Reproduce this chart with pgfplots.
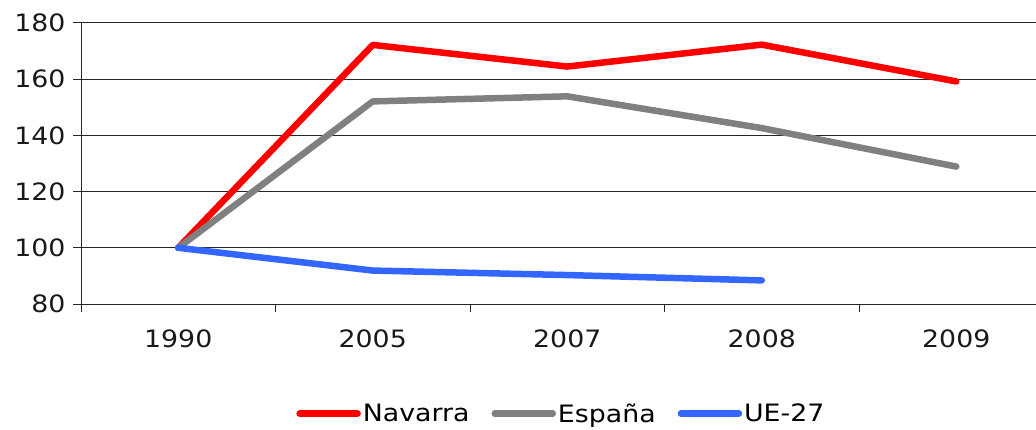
\documentclass[border=0pt]{standalone}
\usepackage{pgfplots}
\pgfplotsset{compat=1.18}
\usepackage{fontspec}
\setmainfont[FakeStretch=1.12]{DejaVu Sans}
\definecolor{navred}{HTML}{FF0000}
\definecolor{espgray}{HTML}{808080}
\definecolor{ueblue}{HTML}{3366FF}
\begin{document}
\begin{tikzpicture}[x=1bp,y=1bp]
\useasboundingbox (0,0) rectangle (1036,429);
\begin{axis}[
  at={(81bp,125bp)}, anchor=south west,
  scale only axis,
  width=955bp, height=281bp,
  xmin=-0.5, xmax=4.41,
  ymin=80, ymax=180,
  ytick={80,100,...,180},
  ymajorgrids,
  grid style={line width=1bp, black!85},
  axis x line*=bottom,
  axis y line*=left,
  axis line style={line width=1bp, black!85},
  xtick={0,1,2,3,4},
  xticklabels={1990,2005,2007,2008,2009},
  major x tick style={draw=none},
  minor xtick={-0.5,0.5,1.5,2.5,3.5},
  minor x tick style={line width=1bp, black!85},
  minor tick length=8bp,
  y tick style={line width=1bp, black!85},
  major tick length=8bp,
  tick align=outside,
  tick label style={font=\fontsize{24}{28}\selectfont, text=black!90},
  /pgf/number format/assume math mode=true,
  yticklabel style={xshift=-4bp},
  xticklabel style={yshift=-14bp},
  legend style={at={(0.503,-0.39)}, anchor=center, draw=none,
    font=\fontsize{24}{28}\selectfont, legend columns=-1,
    /tikz/every even column/.append style={column sep=20bp}},
  legend image code/.code={\draw[#1, line width=6.5bp, line cap=round] (0bp,0bp) -- (58bp,0bp);},
  every axis plot/.append style={line width=6.5bp, line cap=round, line join=round},
]
\addplot[navred] coordinates {(0,100) (1,172.2) (2,164.5) (3,172.3) (4,159.2)};
\addlegendentry{Navarra}
\addplot[espgray] coordinates {(0,100) (1,152.1) (2,153.9) (3,142.6) (4,128.9)};
\addlegendentry{España}
\addplot[ueblue] coordinates {(0,100) (1,91.9) (2,90.3) (3,88.4)};
\addlegendentry{UE-27}
\end{axis}
\end{tikzpicture}
\end{document}
